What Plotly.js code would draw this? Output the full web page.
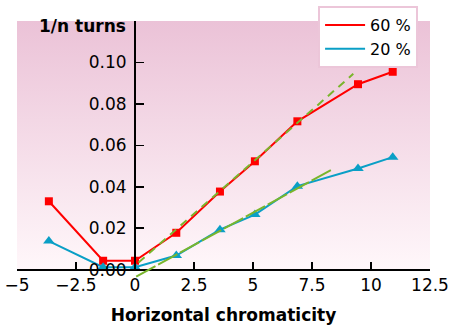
<!DOCTYPE html>
<html>
<head>
<meta charset="utf-8">
<script src="https://cdn.plot.ly/plotly-3.0.1.min.js"></script>
<style>html,body{margin:0;padding:0;background:#fff}#chart{width:457px;height:335px}</style>
</head>
<body>
<div id="chart"></div>
<script>
// Data
const chromX = [-3.65, -1.35, 0, 1.75, 3.6, 5.08, 6.88, 9.45, 10.92];
const turns60 = [0.033, 0.0043, 0.0043, 0.0178, 0.0377, 0.0523, 0.0716, 0.0895, 0.0955];
const turns20 = [0.0138, 0.0012, 0.0012, 0.0068, 0.0193, 0.0266, 0.0403, 0.0488, 0.0543];
const fit60X = [0.15, 9.25];
const fit60Y = [0.0035, 0.0945];
const fit20X = [0.05, 8.4];
const fit20Y = [-0.0034, 0.0487];
const seriesNames = ['60 %', '20 %'];
const xTicks = [-5, -2.5, 0, 2.5, 5, 7.5, 10, 12.5];
const yTicks = [0, 0.02, 0.04, 0.06, 0.08, 0.10];

const RED = '#ff0000', BLUE = '#0a9fc6', GREEN = '#7ab52c';
const FONT = 'DejaVu Sans, sans-serif';
const Y_LOW = -0.0045, Y_TOP = 0.12;
const axisFrac = (0 - Y_LOW) / (Y_TOP - Y_LOW);

const gradSvg = '<svg xmlns="http://www.w3.org/2000/svg" width="100" height="100" preserveAspectRatio="none">' +
  '<defs><linearGradient id="g" x1="0" y1="0" x2="0" y2="1">' +
  '<stop offset="0" stop-color="#ebc2d7"/><stop offset="1" stop-color="#fff7fa"/>' +
  '</linearGradient></defs><rect width="100" height="100" fill="url(#g)"/></svg>';

const traces = [
  {x: chromX, y: turns60, name: seriesNames[0], mode: 'lines', line: {color: RED, width: 2}, showlegend: true},
  {x: chromX, y: turns20, name: seriesNames[1], mode: 'lines', line: {color: BLUE, width: 2}, showlegend: true},
  {x: chromX, y: turns60, mode: 'markers', marker: {symbol: 'square', size: 8, color: RED}, showlegend: false, cliponaxis: false},
  {x: chromX, y: turns20, mode: 'markers', marker: {symbol: 'triangle-up', size: 10, color: BLUE}, showlegend: false, cliponaxis: false},
  {x: fit60X, y: fit60Y, mode: 'lines', line: {color: GREEN, width: 2, dash: '8px,6px'}, showlegend: false},
  // the lower fit dips slightly below the axis, so it lives on a taller, hidden y axis with the same scale
  {x: fit20X, y: fit20Y, yaxis: 'y2', mode: 'lines', line: {color: GREEN, width: 2, dash: '22px,3px'}, showlegend: false}
];

const layout = {
  width: 457, height: 335,
  margin: {l: 17, r: 27, t: 21, b: 55.7, autoexpand: false},
  paper_bgcolor: '#ffffff',
  plot_bgcolor: 'rgba(0,0,0,0)',
  font: {family: FONT, size: 17, color: '#000'},
  showlegend: true,
  legend: {
    x: 0.729, y: 1.058, xanchor: 'left', yanchor: 'top',
    bgcolor: '#ffffff', bordercolor: '#ecc6d9', borderwidth: 2,
    font: {family: FONT, size: 16, color: '#000'},
    tracegroupgap: 0, itemwidth: 40
  },
  images: [{
    source: 'data:image/svg+xml;charset=utf-8,' + encodeURIComponent(gradSvg),
    xref: 'x', yref: 'y', x: -5, y: Y_TOP, sizex: 17.5, sizey: Y_TOP,
    sizing: 'stretch', layer: 'below', xanchor: 'left', yanchor: 'top'
  }],
  xaxis: {
    range: [-5, 12.5], tickvals: xTicks, ticktext: xTicks.map(v => v < 0 ? '\u2212' + Math.abs(v) : String(v)),
    anchor: 'free', position: axisFrac,
    showgrid: false, zeroline: false, showline: true, linecolor: '#000', linewidth: 2,
    ticks: 'inside', ticklen: 7, tickwidth: 1.5, tickcolor: '#000',
    tickfont: {family: FONT, size: 17},
    title: {text: '<b>Horizontal chromaticity</b>', font: {family: FONT, size: 17}, standoff: 14}
  },
  yaxis: {
    range: [0, Y_TOP], domain: [axisFrac, 1], tickvals: yTicks, ticktext: yTicks.map(v => v.toFixed(2)),
    anchor: 'free', position: 5 / 17.5, side: 'left',
    showgrid: false, zeroline: false, showline: true, linecolor: '#000', linewidth: 2,
    ticks: 'inside', ticklen: 8, tickwidth: 1.5, tickcolor: '#000',
    tickfont: {family: FONT, size: 17}, ticklabelstandoff: 4
  },
  yaxis2: {
    range: [Y_LOW, Y_TOP], domain: [0, 1], anchor: 'free', position: 0, visible: false,
    showgrid: false, zeroline: false
  },
  annotations: [{
    text: '<b>1/n turns</b>', xref: 'x', yref: 'paper', x: 0, y: 1,
    xanchor: 'right', yanchor: 'middle', xshift: -7, yshift: -5, showarrow: false,
    font: {family: FONT, size: 17, color: '#000'}
  }]
};

Plotly.newPlot('chart', traces, layout, {staticPlot: true, displayModeBar: false});
</script>
</body>
</html>
